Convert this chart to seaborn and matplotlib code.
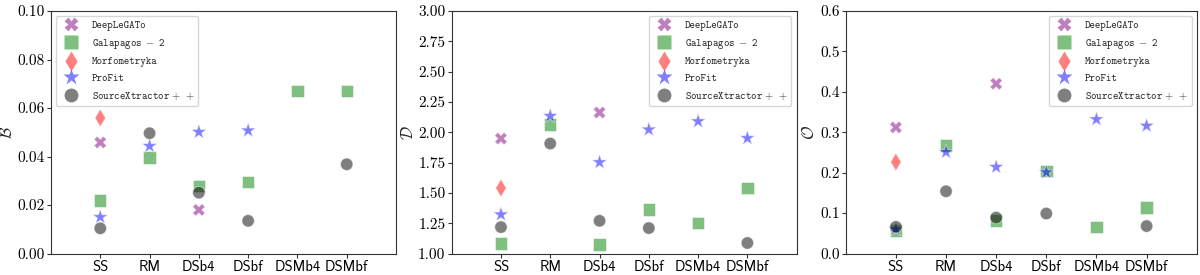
import matplotlib
matplotlib.use("Agg")
import matplotlib.pyplot as plt
from matplotlib.lines import Line2D
import seaborn as sns
import pandas as pd

categories = ["SS", "RM", "DSb4", "DSbf", "DSMb4", "DSMbf"]
codes = ["DeepLeGATo", "Galapagos-2", "Morfometryka", "ProFit", "SourceXtractor++"]
code_labels = [r"DeepLeGATo", r"Galapagos$\;-\;$2", r"Morfometryka", r"ProFit",
               r"SourceXtractor$\,+\,+$"]

# B metric (None = no point)
B_deeplegato = [0.0458, None, 0.0180, None, None, None]
B_galapagos = [0.0219, 0.0396, 0.0279, 0.0296, 0.0670, 0.0670]
B_morfometryka = [0.0559, None, None, None, None, None]
B_profit = [0.0150, 0.0443, 0.0501, 0.0507, None, None]
B_sourcex = [0.0104, 0.0496, 0.0251, 0.0135, None, 0.0368]

# D metric
D_deeplegato = [1.948, None, 2.163, None, None, None]
D_galapagos = [1.084, 2.063, 1.076, 1.362, 1.251, 1.540]
D_morfometryka = [1.540, None, None, None, None, None]
D_profit = [1.322, 2.134, 1.752, 2.022, 2.090, 1.951]
D_sourcex = [1.218, 1.907, 1.270, 1.210, None, 1.087]

# O metric
O_deeplegato = [0.312, None, 0.420, None, None, None]
O_galapagos = [0.057, 0.267, 0.082, 0.204, 0.066, 0.114]
O_morfometryka = [0.2265, None, None, None, None, None]
O_profit = [0.060, 0.251, 0.214, 0.201, 0.332, 0.316]
O_sourcex = [0.066, 0.154, 0.089, 0.099, None, 0.068]

colors = ["purple", "green", "red", "blue", "black"]
markers = ["X", "s", "d", "*", "o"]
marker_areas = [80, 80, 80, 130, 80]

sns.set_style("white")
plt.rcParams["mathtext.fontset"] = "cm"
plt.rcParams["axes.unicode_minus"] = False
plt.rcParams["axes.formatter.use_mathtext"] = True


def make_df(series):
    rows = []
    for code, vals in zip(codes, series):
        for cat, v in zip(categories, vals):
            if v is not None:
                rows.append({"cat": cat, "code": code, "val": v})
    return pd.DataFrame(rows)


panels = [
    ([B_deeplegato, B_galapagos, B_morfometryka, B_profit, B_sourcex], r"$\mathcal{B}$",
     (0.0, 0.10), [0.00, 0.02, 0.04, 0.06, 0.08, 0.10], "{:.2f}", "upper left",
     [0.0425, 0.078, 0.2875, 0.882]),
    ([D_deeplegato, D_galapagos, D_morfometryka, D_profit, D_sourcex], r"$\mathcal{D}$",
     (1.0, 3.0), [1.00, 1.25, 1.50, 1.75, 2.00, 2.25, 2.50, 2.75, 3.00], "{:.2f}", "upper right",
     [0.3764, 0.078, 0.2875, 0.882]),
    ([O_deeplegato, O_galapagos, O_morfometryka, O_profit, O_sourcex], r"$\mathcal{O}$",
     (0.0, 0.6), [0.0, 0.1, 0.2, 0.3, 0.4, 0.5, 0.6], "{:.1f}", "upper right",
     [0.7048, 0.078, 0.2925, 0.882]),
]

fig = plt.figure(figsize=(12, 2.75), dpi=100)
palette = dict(zip(codes, colors))
marker_map = dict(zip(codes, markers))
size_map = dict(zip(codes, marker_areas))

for series, ylabel, ylim, yticks, fmt, loc, pos in panels:
    ax = fig.add_axes(pos)
    df = make_df(series)
    df["cat"] = pd.Categorical(df["cat"], categories=categories, ordered=True)
    df["xpos"] = df["cat"].cat.codes
    sns.scatterplot(data=df, x="xpos", y="val", hue="code", style="code", size="code",
                    hue_order=codes, style_order=codes, size_order=codes, palette=palette,
                    markers=marker_map, sizes=size_map, alpha=0.5, legend=False, ax=ax)
    ax.set_xlim(-1, 6)
    ax.set_ylim(*ylim)
    ax.set_xticks(range(len(categories)))
    ax.set_xticklabels(categories, family="cmss10", fontsize=10.5)
    ax.set_yticks(yticks)
    ax.set_yticklabels([fmt.format(t) for t in yticks], family="cmr10", fontsize=11)
    ax.set_xlabel("")
    ax.set_ylabel(ylabel, fontsize=12, labelpad=1)
    ax.tick_params(axis="both", which="both", direction="out", length=3, width=0.8,
                   bottom=True, left=True, colors="#333333", labelcolor="black")
    ax.tick_params(axis="y", pad=1.5)
    ax.tick_params(axis="x", pad=2)
    for sp in ax.spines.values():
        sp.set_color("#333333")
        sp.set_linewidth(0.8)
    handles = [Line2D([], [], linestyle="none", marker=m, color=c, alpha=0.5,
                      markersize=10 if m != "*" else 12, markeredgecolor="none")
               for m, c in zip(markers, colors)]
    ax.legend(handles, code_labels, loc=loc, prop={"family": "cmtt10", "size": 7.5},
              labelspacing=0.6, handletextpad=1.0, borderpad=0.4, frameon=True)

fig.savefig("out.png", dpi=100)
